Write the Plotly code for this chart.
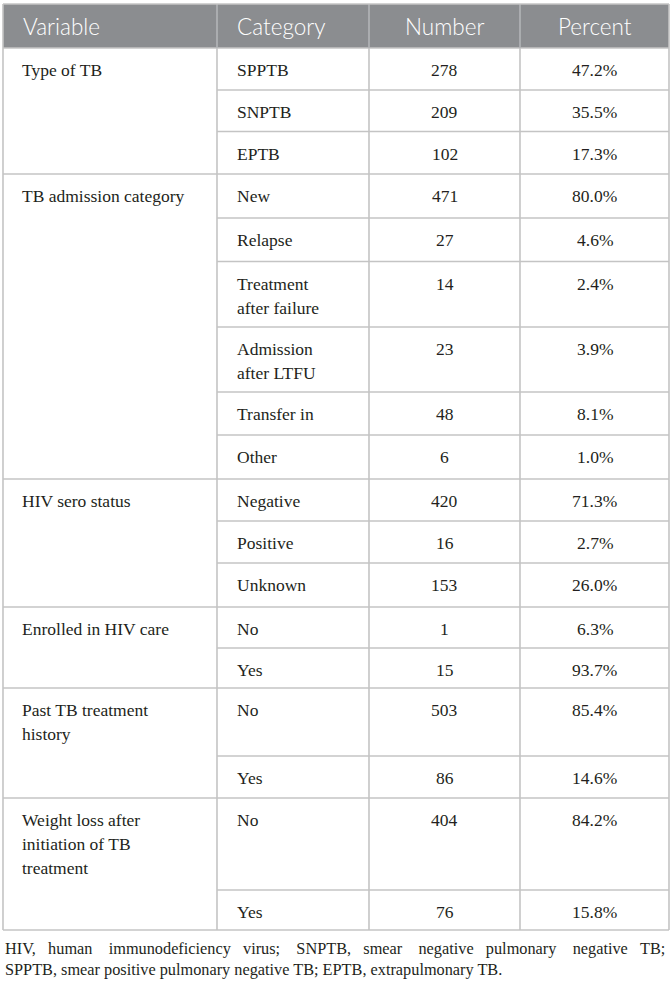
import plotly.graph_objects as go

# table content
headers = ["Variable", "Category", "Number", "Percent"]
variables = ["Type of TB", "TB admission category", "HIV sero status",
             "Enrolled in HIV care", "Past TB treatment<br>history",
             "Weight loss after<br>initiation of TB<br>treatment"]
categories = [["SPPTB", "SNPTB", "EPTB"],
              ["New", "Relapse", "Treatment<br>after failure", "Admission<br>after LTFU",
               "Transfer in", "Other"],
              ["Negative", "Positive", "Unknown"],
              ["No", "Yes"],
              ["No", "Yes"],
              ["No", "Yes"]]
numbers = [[278, 209, 102], [471, 27, 14, 23, 48, 6], [420, 16, 153],
           [1, 15], [503, 86], [404, 76]]
percents = [[47.2, 35.5, 17.3], [80.0, 4.6, 2.4, 3.9, 8.1, 1.0], [71.3, 2.7, 26.0],
            [6.3, 93.7], [85.4, 14.6], [84.2, 15.8]]
footnote = ["HIV, human immunodeficiency virus; SNPTB, smear negative pulmonary negative TB;",
            "SPPTB, smear positive pulmonary negative TB; EPTB, extrapulmonary TB."]

# layout, in page pixels
W, H = 672, 987
col_edges = [3, 217, 369, 520, 669]
top = 4
header_h = 44
row_heights = [[42, 41.5, 42.5],
               [44, 43.5, 65.5, 65, 43, 44],
               [42, 42, 44],
               [41, 40],
               [68, 42],
               [92, 40]]
line_gap = 24
first_line = 22
border = "#c4c4c4"
header_bg = "#8b8d90"
ink = "#231f20"
serif = "Liberation Serif, Times New Roman, DejaVu Serif, serif"

fig = go.Figure()
shapes = []
annots = []


def add_text(x, y, text, anchor):
    for i, part in enumerate(text.split("<br>")):
        annots.append(dict(x=x, y=y + first_line + i * line_gap, text=part,
                           xanchor=anchor, yanchor="middle", showarrow=False,
                           font=dict(family=serif, size=17.5, color=ink)))


# header
shapes.append(dict(type="rect", x0=col_edges[0], x1=col_edges[-1], y0=top,
                   y1=top + header_h, fillcolor=header_bg, line=dict(width=0)))
for i, h in enumerate(headers):
    if i < 2:
        x, anchor = col_edges[i] + 18, "left"
    else:
        x, anchor = (col_edges[i] + col_edges[i + 1]) / 2, "center"
    annots.append(dict(x=x, y=top + header_h / 2, text=h, xanchor=anchor,
                       yanchor="middle", showarrow=False,
                       font=dict(family="Lato", size=22.5, color="white", weight=300)))

# body
y = top + header_h
for g, var in enumerate(variables):
    add_text(col_edges[0] + 17, y, var, "left")
    for r, cat in enumerate(categories[g]):
        add_text(col_edges[1] + 18, y, cat, "left")
        add_text((col_edges[2] + col_edges[3]) / 2, y, str(numbers[g][r]), "center")
        add_text((col_edges[3] + col_edges[4]) / 2, y, f"{percents[g][r]:.1f}%", "center")
        # row separator (the Variable column only splits between groups)
        x0 = col_edges[0] if r == 0 else col_edges[1]
        shapes.append(dict(type="line", x0=x0, x1=col_edges[-1], y0=y, y1=y,
                           line=dict(color=border, width=1.6)))
        y += row_heights[g][r]
bottom = y
shapes.append(dict(type="line", x0=col_edges[0], x1=col_edges[-1], y0=bottom, y1=bottom,
                   line=dict(color=border, width=1.6)))
for k, xe in enumerate(col_edges):
    outer = k in (0, len(col_edges) - 1)
    shapes.append(dict(type="line", x0=xe, x1=xe, y0=top if outer else top + header_h,
                       y1=bottom, line=dict(color=border, width=1.6)))
for xe in col_edges[1:-1]:
    shapes.append(dict(type="line", x0=xe, x1=xe, y0=top, y1=top + header_h,
                       line=dict(color="#b3b5b8", width=1.6)))
shapes.append(dict(type="line", x0=col_edges[0], x1=col_edges[-1], y0=top, y1=top,
                   line=dict(color=border, width=1.6)))

# footnote (first line is justified in the source, so widen the gaps)
words = footnote[0].split(" ")
line1 = words[0]
for i, w in enumerate(words[1:]):
    line1 += ("&nbsp;" * (4 if i % 2 else 3)) + w
annots.append(dict(x=col_edges[0], y=bottom + 29, text=line1 + "<br>" + footnote[1],
                   xanchor="left", yanchor="middle", align="left", showarrow=False,
                   font=dict(family=serif, size=16.3, color=ink)))

fig.update_layout(
    width=W, height=H,
    margin=dict(l=0, r=0, t=0, b=0),
    paper_bgcolor="white", plot_bgcolor="white",
    xaxis=dict(range=[0, W], visible=False, fixedrange=True),
    yaxis=dict(range=[H, 0], visible=False, fixedrange=True),
    shapes=shapes, annotations=annots,
    showlegend=False,
)
# drop the default 8px body margin so page pixels match the axes
fig.write_html("out.html", config={"displayModeBar": False},
               post_script="document.body.style.margin='0';")
